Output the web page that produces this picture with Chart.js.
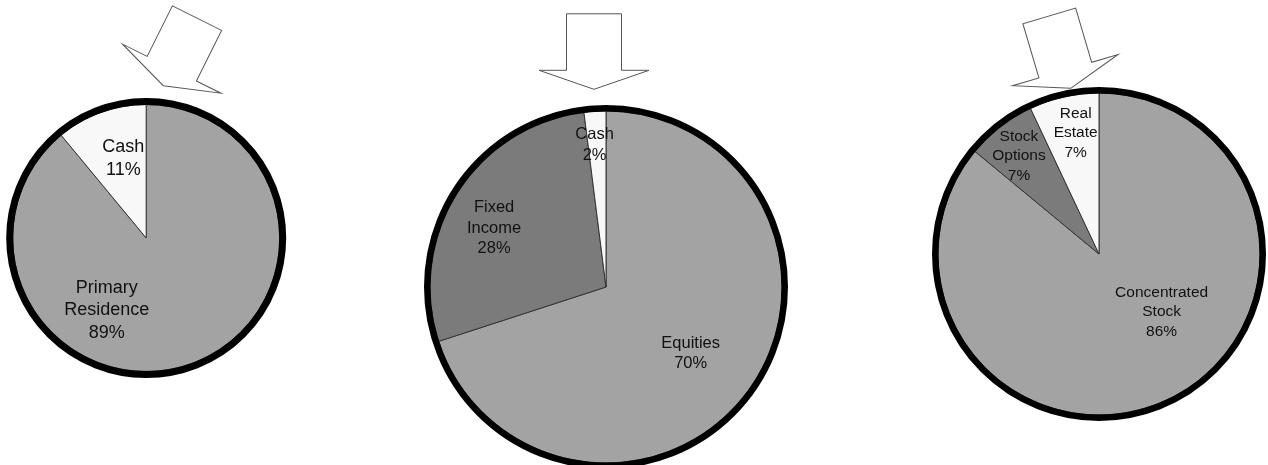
<!DOCTYPE html>
<html><head><meta charset="utf-8">
<script src="https://cdn.jsdelivr.net/npm/chart.js@4.4.1/dist/chart.umd.min.js"></script>
<style>
html,body{margin:0;padding:0;background:#fff;overflow:hidden;width:1268px;height:465px;position:relative}
canvas{position:absolute;left:0;top:0}
</style></head><body>
<canvas id="c1" width="1268" height="465"></canvas>
<canvas id="c2" width="1268" height="465"></canvas>
<canvas id="c3" width="1268" height="465"></canvas>
<script>
// ---- data ----
const categories1 = ['Primary Residence', 'Cash'];
const values1 = [89, 11];
const categories2 = ['Equities', 'Fixed Income', 'Cash'];
const values2 = [70, 28, 2];
const categories3 = ['Concentrated Stock', 'Stock Options', 'Real Estate'];
const values3 = [86, 7, 7];

// ---- styling ----
const GRAY = '#a3a3a3', DARK = '#7b7b7b', LIGHT = '#f8f8f8';
const colors1 = [GRAY, LIGHT];
const colors2 = [GRAY, DARK, LIGHT];
const colors3 = [GRAY, DARK, LIGHT];

const W = 1268, H = 465;

const ringPlugin = {
  id: 'ring',
  afterDatasetsDraw(chart, args, opts) {
    const arc = chart.getDatasetMeta(0).data[0];
    const ctx = chart.ctx;
    ctx.save();
    ctx.beginPath();
    ctx.arc(arc.x, arc.y, arc.outerRadius + opts.width / 2 - 0.5, 0, Math.PI * 2);
    ctx.lineWidth = opts.width;
    ctx.strokeStyle = '#000';
    ctx.stroke();
    ctx.restore();
  }
};

const labelPlugin = {
  id: 'sliceLabels',
  afterDatasetsDraw(chart, args, opts) {
    const meta = chart.getDatasetMeta(0);
    const ds = chart.data.datasets[0];
    const total = ds.data.reduce((a, b) => a + b, 0);
    const ctx = chart.ctx;
    ctx.save();
    ctx.font = opts.size + 'px "Liberation Sans", Arial, sans-serif';
    ctx.fillStyle = '#111';
    ctx.textAlign = 'center';
    ctx.textBaseline = 'middle';
    meta.data.forEach((arc, i) => {
      const name = chart.data.labels[i];
      const lines = opts.split[i].concat([Math.round(ds.data[i] / total * 100) + '%']);
      const cx = arc.x + opts.offsets[i][0] * arc.outerRadius;
      const cy = arc.y + opts.offsets[i][1] * arc.outerRadius;
      const n = lines.length;
      lines.forEach((t, k) => {
        ctx.fillText(t, cx, cy + (k - (n - 1) / 2) * opts.lh);
      });
    });
    ctx.restore();
  }
};

const arrowPlugin = {
  id: 'arrow',
  afterDraw(chart, args, o) {
    const ctx = chart.ctx;
    ctx.save();
    ctx.translate(o.tip[0], o.tip[1]);
    ctx.rotate(o.angle * Math.PI / 180);
    const sw = 55, sl = 56.5, hw = 110, hl = 19;
    ctx.beginPath();
    ctx.moveTo(0, 0);
    ctx.lineTo(hw / 2, -hl);
    ctx.lineTo(sw / 2, -hl);
    ctx.lineTo(sw / 2, -hl - sl);
    ctx.lineTo(-sw / 2, -hl - sl);
    ctx.lineTo(-sw / 2, -hl);
    ctx.lineTo(-hw / 2, -hl);
    ctx.closePath();
    ctx.fillStyle = '#fff';
    ctx.fill();
    ctx.lineWidth = 1;
    ctx.strokeStyle = '#555';
    ctx.stroke();
    ctx.restore();
  }
};

function makePie(id, labels, values, colors, cfg) {
  const s = 5;
  new Chart(document.getElementById(id), {
    type: 'pie',
    data: {
      labels: labels,
      datasets: [{
        data: values,
        backgroundColor: colors,
        borderColor: '#333',
        borderWidth: 1,
        clip: false
      }]
    },
    options: {
      responsive: false,
      animation: false,
      events: [],
      radius: cfg.r,
      layout: { padding: { left: cfg.cx - s, right: W - cfg.cx - s, top: cfg.cy - s, bottom: H - cfg.cy - s } },
      plugins: {
        legend: { display: false },
        tooltip: { enabled: false },
        ring: { width: cfg.ring },
        sliceLabels: { size: cfg.font, lh: cfg.lh, split: cfg.split, offsets: cfg.offsets },
        arrow: { tip: cfg.tip, angle: cfg.angle }
      }
    },
    plugins: [ringPlugin, labelPlugin, arrowPlugin]
  });
}

makePie('c1', categories1, values1, colors1, {
  cx: 146.2, cy: 238, r: 133.5, ring: 7, font: 18, lh: 22.5,
  split: [['Primary', 'Residence'], ['Cash']],
  offsets: [[-0.296, 0.54], [-0.171, -0.595]],
  tip: [163.3, 85.7], angle: 26.5
});
makePie('c2', categories2, values2, colors2, {
  cx: 606, cy: 287, r: 176, ring: 6.5, font: 16.5, lh: 20.5,
  split: [['Equities'], ['Fixed', 'Income'], ['Cash']],
  offsets: [[0.481, 0.377], [-0.636, -0.335], [-0.065, -0.807]],
  tip: [594, 89.3], angle: 0
});
makePie('c3', categories3, values3, colors3, {
  cx: 1099, cy: 254, r: 161, ring: 6.5, font: 15.5, lh: 19.5,
  split: [['Concentrated', 'Stock'], ['Stock', 'Options'], ['Real', 'Estate']],
  offsets: [[0.389, 0.36], [-0.497, -0.609], [-0.145, -0.752]],
  tip: [1070.7, 88.3], angle: -16.5
});
</script>
</body></html>
